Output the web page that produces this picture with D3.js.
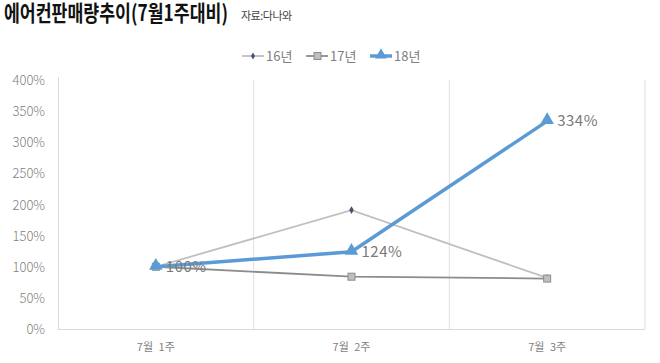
<!DOCTYPE html>
<html>
<head>
<meta charset="utf-8">
<script src="https://cdn.jsdelivr.net/npm/d3@7"></script>
<style>
  body { margin: 0; background: #fff; }
  text { font-family: "Noto Sans CJK KR", "Noto Sans", sans-serif; }
</style>
</head>
<body>
<svg id="chart" width="660" height="363"></svg>
<script>
'use strict';

// data
const weeks = ['7월 1주', '7월 2주', '7월 3주'];
const seriesNames = ['16년', '17년', '18년'];
const s16 = [100, 191, 82];
const s17 = [100, 84, 81];
const s18 = [100, 124, 334];
const yTicks = [0, 50, 100, 150, 200, 250, 300, 350, 400];

(function () {
    const svg = d3.select('#chart');
    const left = 58, right = 645, top = 80, bottom = 329;

    const x = d3.scaleBand().domain(weeks).range([left, right]);
    const y = d3.scaleLinear().domain([0, 400]).range([bottom, top]);

    // title, squeezed horizontally to the reference width
    const title = svg.append('text')
        .attr('x', 0).attr('y', 0)
        .attr('font-size', 22).attr('font-weight', 'bold')
        .attr('fill', '#111')
        .text('에어컨판매량추이(7월1주대비)');
    const tw = title.node().getComputedTextLength();
    title.attr('transform', `translate(4,21) scale(${224 / tw},1)`);

    svg.append('text')
        .attr('x', 241).attr('y', 20)
        .attr('font-size', 11).attr('fill', '#444')
        .attr('letter-spacing', -0.5)
        .text('자료:다나와');

    // grid: vertical lines at category boundaries
    const bounds = weeks.map(w => x(w)).concat([right]);
    svg.selectAll('.vgrid')
        .data(bounds.slice(1))
        .enter()
        .append('line')
            .attr('x1', d => d).attr('x2', d => d)
            .attr('y1', top).attr('y2', bottom)
            .attr('stroke', '#e0e0e0').attr('stroke-width', 1);

    // axes
    svg.append('line')
        .attr('x1', left + 0.5).attr('x2', left + 0.5)
        .attr('y1', top - 3).attr('y2', bottom)
        .attr('stroke', '#d9d9d9');
    svg.append('line')
        .attr('x1', left).attr('x2', right)
        .attr('y1', bottom + 0.5).attr('y2', bottom + 0.5)
        .attr('stroke', '#d9d9d9');

    svg.selectAll('.ylab')
        .data(yTicks)
        .enter()
        .append('text')
            .attr('x', 45).attr('y', d => y(d) + 5)
            .attr('text-anchor', 'end')
            .attr('font-size', 13).attr('font-weight', 300)
            .attr('fill', '#808080')
            .attr('font-family', 'Open Sans, sans-serif')
            .text(d => d + '%');

    svg.selectAll('.xlab')
        .data(weeks)
        .enter()
        .append('text')
            .attr('x', d => x(d) + x.bandwidth() / 2)
            .attr('y', 351)
            .attr('text-anchor', 'middle')
            .attr('font-size', 11).attr('fill', '#7f7f7f')
            .attr('word-spacing', 3)
            .text(d => d);

    const cx = (d, i) => x(weeks[i]) + x.bandwidth() / 2;
    const line = d3.line().x(cx).y(d => y(d));

    // 16년
    svg.append('path').datum(s16)
        .attr('d', line).attr('fill', 'none')
        .attr('stroke', '#bfbfbf').attr('stroke-width', 1.8);
    // 17년
    svg.append('path').datum(s17)
        .attr('d', line).attr('fill', 'none')
        .attr('stroke', '#8c8c8c').attr('stroke-width', 1.8);
    // 18년
    svg.append('path').datum(s18)
        .attr('d', line).attr('fill', 'none')
        .attr('stroke', '#5b9bd5').attr('stroke-width', 3.5);

    // markers
    svg.selectAll('.m16')
        .data(s16)
        .enter()
        .append('path')
            .attr('d', d3.symbol(d3.symbolDiamond, 18))
            .attr('transform', (d, i) => `translate(${cx(d, i)},${y(d)})`)
            .attr('fill', '#44546a');
    svg.selectAll('.m17')
        .data(s17)
        .enter()
        .append('rect')
            .attr('x', (d, i) => cx(d, i) - 3.5).attr('y', d => y(d) - 3.5)
            .attr('width', 7).attr('height', 7)
            .attr('fill', '#bfbfbf').attr('stroke', '#8c8c8c').attr('stroke-width', 1);
    svg.selectAll('.m18')
        .data(s18)
        .enter()
        .append('path')
            .attr('d', d3.symbol(d3.symbolTriangle, 80))
            .attr('transform', (d, i) => `translate(${cx(d, i)},${y(d) - 1})`)
            .attr('fill', '#5b9bd5');

    // data labels
    svg.selectAll('.lab18')
        .data(s18)
        .enter()
        .append('text')
            .attr('x', (d, i) => cx(d, i) + 10)
            .attr('y', d => y(d) + 5)
            .attr('font-size', 15).attr('font-weight', 400)
            .attr('fill', '#7a7a7a')
            .attr('font-family', 'Open Sans, sans-serif')
            .attr('letter-spacing', 0.5)
            .text(d => d + '%');

    // legend
    const legend = svg.append('g');
    const lx = [242, 306, 370];
    seriesNames.forEach((name, i) => {
        const g = legend.append('g').attr('transform', `translate(${lx[i]},56)`);
        const colors = ['#bfbfbf', '#8c8c8c', '#5b9bd5'];
        g.append('line').attr('x1', 0).attr('x2', 22).attr('y1', 0).attr('y2', 0)
            .attr('stroke', colors[i]).attr('stroke-width', i === 2 ? 3.5 : 1.8);
        if (i === 0) {
            g.append('path').attr('d', d3.symbol(d3.symbolDiamond, 14))
                .attr('transform', 'translate(11,0)').attr('fill', '#44546a');
        } else if (i === 1) {
            g.append('rect').attr('x', 8).attr('y', -3.5).attr('width', 7).attr('height', 7)
                .attr('fill', '#bfbfbf').attr('stroke', '#8c8c8c');
        } else {
            g.append('path').attr('d', d3.symbol(d3.symbolTriangle, 60))
                .attr('transform', 'translate(11,-1)').attr('fill', '#5b9bd5');
        }
        g.append('text').attr('x', 24).attr('y', 5)
            .attr('font-size', 13).attr('fill', '#7f7f7f')
            .text(name);
    });
})();
</script>
</body>
</html>
